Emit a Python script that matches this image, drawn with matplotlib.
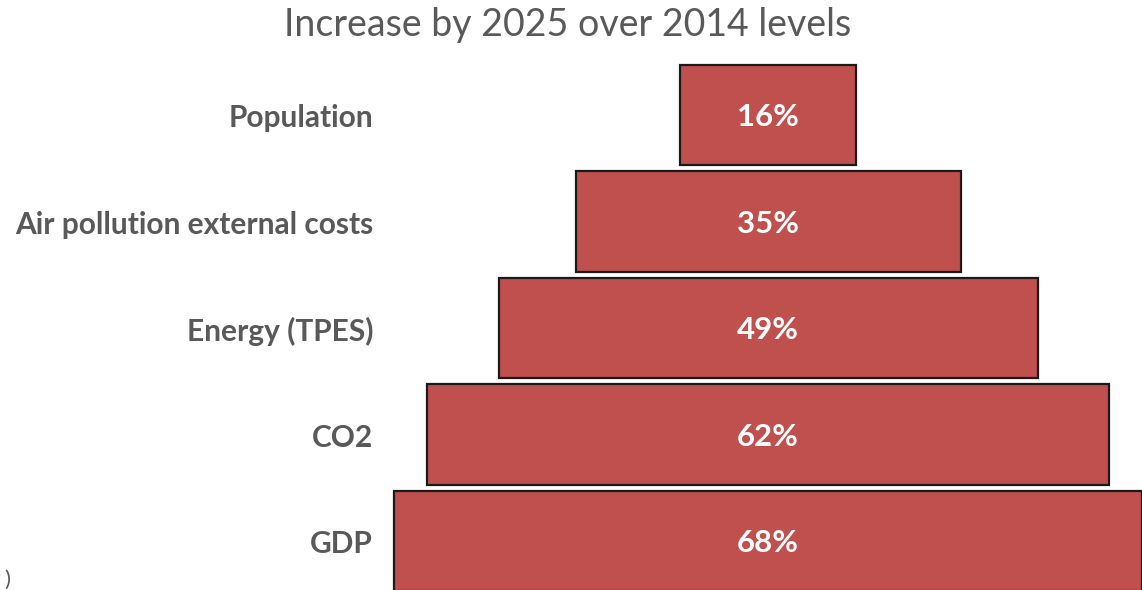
import matplotlib.pyplot as plt

# indicator names, top to bottom, and their growth 2014 -> 2025 (%)
categories = ["Population", "Air pollution external costs", "Energy (TPES)", "CO2", "GDP"]
increase = [16, 35, 49, 62, 68]
title = "Increase by 2025 over 2014 levels"

plt.rcParams['font.family'] = ['Lato', 'DejaVu Sans']

fig = plt.figure(figsize=(11.42, 5.90), dpi=100)
ax = fig.add_axes([0, 0, 1, 1])

# bars centred on x=0, so each one spans -v/2 .. +v/2
rows = list(range(len(categories)))
lefts = [-v / 2 for v in increase]
ax.barh(rows, increase, left=lefts, height=0.94, color='#C0504D',
        edgecolor='#1a1a1a', linewidth=1.6, zorder=2)

for i, (name, v) in enumerate(zip(categories, increase)):
    ax.text(0, i + 0.02, f"{v}%", ha='center', va='center', color='white',
            fontsize=22.5, fontweight='bold', zorder=3)
    ax.text(-35.9, i + 0.03, name, ha='right', va='center', color='#595959',
            fontsize=21.5, fontweight='bold')

# pixel-based frame: centre of the funnel at 768 px, 11 px per percent point
ax.set_xlim(-768 / 11, (1142 - 768) / 11)
ax.set_ylim((590 - 115) / 106.5, -115 / 106.5)
ax.axis('off')

fig.text(568 / 1142, 1 - 25 / 590, title, ha='center', va='center',
         color='#595959', fontsize=27)
fig.text(0.004, 0.0, ")", ha='left', va='bottom', color='#595959', fontsize=16)

fig.savefig("out.png", dpi=100)
